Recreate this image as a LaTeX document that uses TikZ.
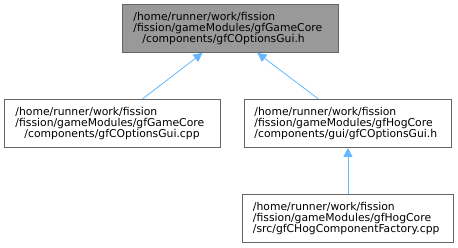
\documentclass[tikz,border=0pt]{standalone}
\usepackage{fontspec}
\setmainfont{DejaVu Sans}
\usepackage{tikz}
\usetikzlibrary{positioning,arrows.meta}
\definecolor{edgeblue}{HTML}{63B8FF}
\definecolor{boxgray}{HTML}{999999}
\definecolor{boxline}{HTML}{666666}
\tikzset{
  file/.style={draw=boxline, line width=0.9pt, fill=white, anchor=north west, inner xsep=11pt, inner ysep=0pt,
    minimum height=48pt, align=left, font=\fontsize{10.8}{11.3}\selectfont},
  dep/.style={draw=edgeblue, line width=0.8pt, {Triangle[length=9pt,width=9pt]}-},
}

\begin{document}
\begin{tikzpicture}[x=1pt,y=-1pt]
  \useasboundingbox (0,0) rectangle (458,247);
  % files
  \node[file,fill=boxgray,text width=194pt] (gui) at (122,4) {/home/runner/work/fission\\/fission/gameModules/gfGameCore\\\hspace*{9pt}/components/gfCOptionsGui.h};
  \node[file,text width=194pt] (guicpp) at (4,99) {/home/runner/work/fission\\/fission/gameModules/gfGameCore\\\hspace*{9pt}/components/gfCOptionsGui.cpp};
  \node[file,inner xsep=10pt,text width=187pt] (hoggui) at (244,99) {/home/runner/work/fission\\/fission/gameModules/gfHogCore\\/components/gui/gfCOptionsGui.h};
  \node[file,inner xsep=10.5pt,text width=190pt] (factory) at (242,194) {/home/runner/work/fission\\/fission/gameModules/gfHogCore\\/src/gfCHogComponentFactory.cpp};
  % includes
  \draw[dep] ([xshift=-28pt]gui.south) -- ([xshift=30pt]guicpp.north);
  \draw[dep] ([xshift=27pt]gui.south) -- ([xshift=-29.5pt]hoggui.north);
  \draw[dep] (hoggui.south) -- (factory.north);
\end{tikzpicture}
\end{document}
